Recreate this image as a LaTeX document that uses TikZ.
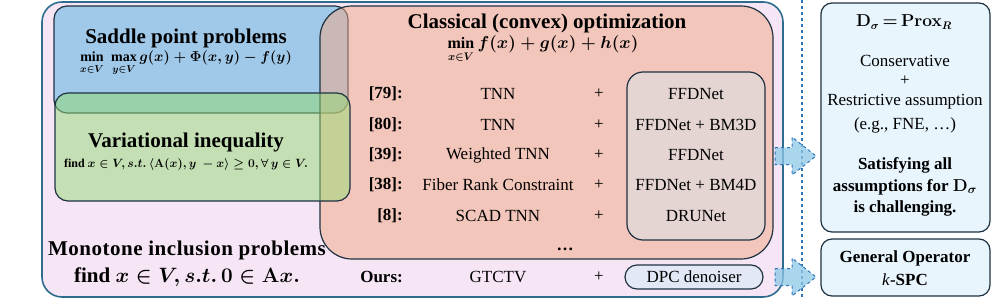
\documentclass[tikz,border=0pt]{standalone}
\usepackage{amsmath,amssymb,bm}
\usepackage{fontspec}
\IfFontExistsTF{LiberationSerif-Regular.ttf}{%
  \setmainfont{LiberationSerif}[Extension=.ttf,UprightFont=*-Regular,BoldFont=*-Bold,ItalicFont=*-Italic,BoldItalicFont=*-BoldItalic]}{%
  \setmainfont{Liberation Serif}}
\newcommand{\limsub}[1]{\raisebox{-2.5pt}{$\scriptstyle #1$}}
\definecolor{pinkbg}{RGB}{245,229,245}
\definecolor{pinkline}{RGB}{46,108,142}
\definecolor{bluefill}{RGB}{160,200,232}
\definecolor{redfill}{RGB}{243,169,131}
\definecolor{greenfill}{RGB}{149,219,115}
\definecolor{greyfill}{RGB}{228,213,211}
\definecolor{dpcfill}{RGB}{226,232,246}
\definecolor{rightfill}{RGB}{232,245,252}
\definecolor{darkline}{RGB}{30,50,66}
\definecolor{dashblue}{RGB}{46,117,182}
\definecolor{arrowfill}{RGB}{140,200,230}
\tikzset{
  boxline/.style={draw=darkline, line width=1.2pt},
  txt/.style={inner sep=0pt, font=\fontsize{17}{20}\selectfont},
  btxt/.style={inner sep=0pt, font=\fontsize{17}{20}\selectfont\bfseries},
  title/.style={inner sep=0pt, font=\fontsize{21}{24}\selectfont\bfseries},
  formula/.style={inner sep=0pt, font=\fontsize{14}{16}\selectfont\boldmath},
  blockarrow/.style={fill=arrowfill, fill opacity=0.75, draw=dashblue, dashed, line width=1pt},
}
\begin{document}
\begin{tikzpicture}[x=1pt,y=-1pt]
\useasboundingbox (0,0) rectangle (997,300);
% outer pink box
\draw[fill=pinkbg, draw=pinkline, line width=1.6pt, rounded corners=20pt] (42,2) rectangle (783,297);
% blue box
\fill[bluefill, rounded corners=13pt] (54,6) rectangle (348,113);
\draw[boxline, rounded corners=13pt] (54,6) rectangle (348,113);
% red box
\draw[boxline, fill=redfill, fill opacity=0.5, rounded corners=32pt] (320,6) rectangle (773,259);
% green box
\draw[boxline, fill=greenfill, fill opacity=0.5, rounded corners=13pt] (55,93) rectangle (350,201);
% grey inner box
\draw[boxline, fill=greyfill, rounded corners=16pt] (627,72) rectangle (765,240);
% DPC box
\node[boxline, fill=dpcfill, rounded corners=12pt, minimum width=138pt, minimum height=24pt, inner sep=0pt, font=\fontsize{17}{20}\selectfont] (dpc) at (694,277) {DPC denoiser};

% left texts
\node[title] (saddle) at (186,38) {Saddle point problems};
\node[formula] (saddlef) at (186,63) {$\min\limits_{\limsub{x\in V}}\;\max\limits_{\limsub{y\in V}} g(x)+\Phi(x,y)-f(y)$};
\node[title] (vi) at (186,142) {Variational inequality};
\node[formula, font=\fontsize{12}{14}\selectfont\boldmath] (vif) at (186,164) {\bfseries find $x\in V, s.t.\,\langle \mathbf{A}(x), y\ - x\rangle \geq 0, \forall\, y\in V.$};
\node[title, font=\fontsize{21}{24}\selectfont\bfseries\addfontfeatures{LetterSpace=2.4}] (mono) at (187,250) {Monotone inclusion problems};
\node[title, font=\fontsize{21}{24}\selectfont\bfseries\boldmath] (monof) at (187,277) {find $x\in V, s.t.\,\mathbf{0}\in \mathbf{A}x.$};

% classical
\node[title] (classical) at (547,23) {Classical (convex) optimization};
\node[formula, font=\fontsize{16}{18}\selectfont\boldmath] (classicalf) at (543,49) {$\min\limits_{\limsub{x\in V}} f(x)+g(x)+h(x)$};

\node[btxt, anchor=east] (r1a) at (403,94) {[79]:};
\node[txt] (r1b) at (498,94) {TNN};
\node[txt] (r1c) at (599,94) {+};
\node[txt] (r1d) at (696,94) {FFDNet};
\node[btxt, anchor=east] (r2a) at (403,125) {[80]:};
\node[txt] (r2b) at (498,125) {TNN};
\node[txt] (r2c) at (599,125) {+};
\node[txt] (r2d) at (696,125) {FFDNet + BM3D};
\node[btxt, anchor=east] (r3a) at (403,155) {[39]:};
\node[txt] (r3b) at (498,155) {Weighted TNN};
\node[txt] (r3c) at (599,155) {+};
\node[txt] (r3d) at (696,155) {FFDNet};
\node[btxt, anchor=east] (r4a) at (403,185) {[38]:};
\node[txt] (r4b) at (498,185) {Fiber Rank Constraint};
\node[txt] (r4c) at (599,185) {+};
\node[txt] (r4d) at (696,185) {FFDNet + BM4D};
\node[btxt, anchor=east] (r5a) at (403,216) {[8]:};
\node[txt] (r5b) at (498,216) {SCAD TNN};
\node[txt] (r5c) at (599,216) {+};
\node[txt] (r5d) at (696,216) {DRUNet};
\node[btxt] (dots) at (565,249) {\dots};
\node[btxt, anchor=east] (oursa) at (403,277) {Ours:};
\node[txt] (oursb) at (498,277) {GTCTV};
\node[txt] (oursc) at (599,277) {+};

% dashed separator
\coordinate (septop) at (802,0);
\coordinate (sepbot) at (802,300);
\draw[dashblue, dashed, line width=1.4pt] (septop) -- (sepbot);

% right boxes
\draw[boxline, fill=rightfill, rounded corners=11pt] (821,3) rectangle (990,232);
\draw[boxline, fill=rightfill, rounded corners=11pt] (821,239) rectangle (990,296);
\node[inner sep=0pt, font=\fontsize{16}{19}\selectfont\bfseries\boldmath] (prox) at (904,22) {$\mathbf{D}_{\sigma}\mkern-2mu=\mkern-2mu\mathbf{Prox}_{R}$};
\node[txt] (cons) at (905,61) {Conservative};
\node[txt] (plus) at (905,81) {+};
\node[txt] (restr) at (905,102) {Restrictive assumption};
\node[txt] (eg) at (905,125) {(e.g., FNE, …)};
\node[btxt] (sat1) at (905,165) {Satisfying all};
\node[btxt, font=\fontsize{17}{20}\selectfont\bfseries\boldmath] (sat2) at (905,187) {assumptions for $\mathbf{D}_{\sigma}$};
\node[btxt] (sat3) at (905,208) {is challenging.};
\node[btxt] (gen) at (905,258) {General Operator};
\node[txt] (kspc) at (905,280) {\textit{k}\textbf{-SPC}};

% block arrows
\coordinate (a1) at (775,156);
\coordinate (a2) at (775,277);
\foreach \c in {a1,a2}{
  \draw[blockarrow] ([yshift=8.5pt]\c) -- ++(17,0) -- ++(0,-10.5) -- ++(24,19) -- ++(-24,19) -- ++(0,-10.5) -- ++(-17,0) -- cycle;
}
\end{tikzpicture}
\end{document}
